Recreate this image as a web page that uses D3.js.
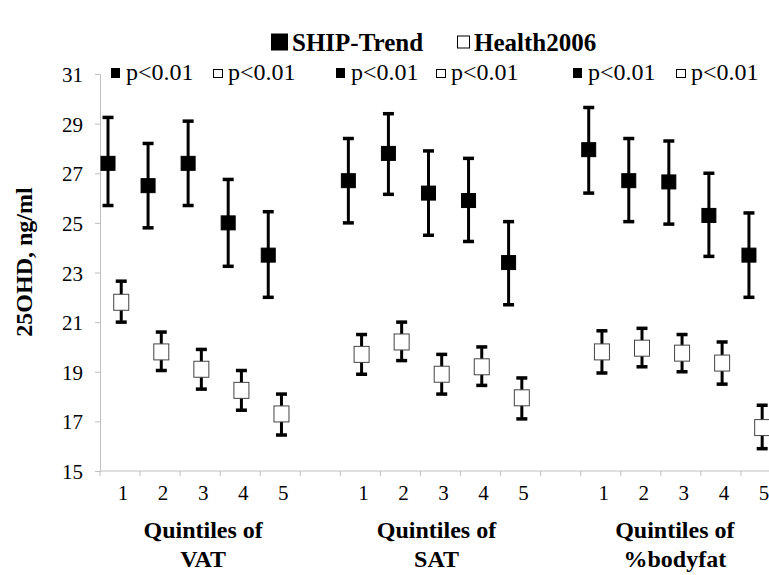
<!DOCTYPE html>
<html>
<head>
<meta charset="utf-8">
<script src="https://cdn.jsdelivr.net/npm/d3@7"></script>
<style>
  body { margin: 0; background: #fff; }
  text { font-family: "Times New Roman", "Liberation Serif", serif; }
</style>
</head>
<body>
<script>
const width = 769;
const height = 575;
const serif = '"Times New Roman", "Liberation Serif", serif';

// categories
const groups = ["VAT", "SAT", "%bodyfat"];
const quintiles = ["1", "2", "3", "4", "5"];
const yTicks = [15, 17, 19, 21, 23, 25, 27, 29, 31];

// SHIP-Trend (filled squares): mean, lower, upper per group
const shipMean = [
  [27.4, 26.5, 27.4, 25.0, 23.7],
  [26.7, 27.8, 26.2, 25.9, 23.4],
  [27.95, 26.7, 26.65, 25.3, 23.7]
];
const shipLow = [
  [25.7, 24.8, 25.7, 23.25, 22.0],
  [25.0, 26.15, 24.5, 24.25, 21.7],
  [26.2, 25.05, 24.95, 23.65, 22.0]
];
const shipHigh = [
  [29.25, 28.2, 29.1, 26.75, 25.45],
  [28.4, 29.4, 27.9, 27.6, 25.05],
  [29.65, 28.4, 28.3, 27.0, 25.4]
];

// Health2006 (open squares)
const healthMean = [
  [21.8, 19.8, 19.1, 18.25, 17.3],
  [19.7, 20.2, 18.9, 19.2, 17.95],
  [19.8, 19.95, 19.75, 19.35, 16.75]
];
const healthLow = [
  [21.0, 19.05, 18.3, 17.45, 16.45],
  [18.9, 19.45, 18.1, 18.45, 17.1],
  [18.95, 19.2, 19.0, 18.5, 15.9]
];
const healthHigh = [
  [22.65, 20.6, 19.9, 19.05, 18.1],
  [20.5, 21.0, 19.7, 20.0, 18.75],
  [20.65, 20.75, 20.5, 20.2, 17.65]
];

const pLabels = ["p<0.01", "p<0.01", "p<0.01"];

// slot keys: 5 quintiles per group with an empty slot between groups
const slots = [];
groups.forEach((g, gi) => {
  quintiles.forEach(q => slots.push(g + "|" + q));
  if (gi < groups.length - 1) slots.push("gap" + gi);
});

const svg = d3.select("body").append("svg")
  .attr("width", width)
  .attr("height", height);

const x = d3.scaleBand()
  .domain(slots)
  .range([100, 781])
  .padding(0);

const y = d3.scaleLinear()
  .domain([15, 31])
  .range([471, 74]);

const bw = x.bandwidth();
const axisColor = "#bfbfbf";

// y axis
const yAxis = svg.append("g")
  .attr("transform", "translate(100,0)")
  .attr("font-family", serif)
  .call(d3.axisLeft(y).tickValues(yTicks).tickSize(5).tickPadding(12));
yAxis.attr("font-family", serif);
yAxis.select(".domain").attr("stroke", axisColor);
yAxis.selectAll(".tick line").attr("stroke", axisColor);
yAxis.selectAll(".tick text")
  .attr("font-size", 21)
  .attr("font-family", serif)
  .attr("dy", "0.36em")
  .attr("fill", "#000");

// x axis: line with tick marks at band edges
const xg = svg.append("g");
xg.append("line")
  .attr("x1", x.range()[0]).attr("x2", x.range()[1])
  .attr("y1", y(15)).attr("y2", y(15))
  .attr("stroke", axisColor);
xg.selectAll("line.tk")
  .data(slots.concat(["end"]))
  .join("line")
  .attr("class", "tk")
  .attr("x1", (d, i) => x.range()[0] + i * bw)
  .attr("x2", (d, i) => x.range()[0] + i * bw)
  .attr("y1", y(15)).attr("y2", y(15) + 5)
  .attr("stroke", axisColor);

// quintile labels
const qData = [];
groups.forEach(g => quintiles.forEach(q => qData.push({ g, q })));
svg.append("g").selectAll("text")
  .data(qData)
  .join("text")
  .attr("x", d => x(d.g + "|" + d.q) + bw / 2 + 3)
  .attr("y", 500)
  .attr("text-anchor", "middle")
  .attr("font-family", serif)
  .attr("font-size", 21)
  .text(d => d.q);

// group titles
const groupCenterShift = [3, -4, -6];
groups.forEach((g, gi) => {
  const cx = x(g + "|3") + bw / 2 + groupCenterShift[gi];
  const t = svg.append("text")
    .attr("x", cx)
    .attr("text-anchor", "middle")
    .attr("font-size", 24)
    .attr("font-weight", "bold");
  t.append("tspan").attr("x", cx).attr("y", 538).text("Quintiles of");
  t.append("tspan").attr("x", cx).attr("y", 567).text(g);
});

// y axis title
svg.append("text")
  .attr("transform", "translate(32,262) rotate(-90)")
  .attr("text-anchor", "middle")
  .attr("font-size", 24)
  .attr("font-weight", "bold")
  .text("25OHD, ng/ml");

// error bars + markers
function drawSeries(mean, low, high, offset, filled) {
  const pts = [];
  groups.forEach((g, gi) => quintiles.forEach((q, qi) => {
    pts.push({
      cx: x(g + "|" + q) + bw / 2 + offset,
      m: mean[gi][qi], lo: low[gi][qi], hi: high[gi][qi]
    });
  }));
  const gEl = svg.append("g");
  gEl.selectAll("line.bar").data(pts).join("line")
    .attr("x1", d => d.cx).attr("x2", d => d.cx)
    .attr("y1", d => y(d.lo)).attr("y2", d => y(d.hi))
    .attr("stroke", "#000").attr("stroke-width", 3);
  ["lo", "hi"].forEach(k => {
    gEl.selectAll("line.cap" + k).data(pts).join("line")
      .attr("x1", d => d.cx - 5.5).attr("x2", d => d.cx + 5.5)
      .attr("y1", d => y(d[k])).attr("y2", d => y(d[k]))
      .attr("stroke", "#000").attr("stroke-width", 3.5);
  });
  const s = filled ? 14 : 15;
  const h = filled ? 14 : 16;
  gEl.selectAll("rect").data(pts).join("rect")
    .attr("x", d => d.cx - s / 2)
    .attr("y", d => y(d.m) - h / 2)
    .attr("width", s).attr("height", h)
    .attr("fill", filled ? "#000" : "#fff")
    .attr("stroke", filled ? "#000" : "#444")
    .attr("stroke-width", 1);
}
drawSeries(shipMean, shipLow, shipHigh, -0.3 * bw, true);
drawSeries(healthMean, healthLow, healthHigh, 0.03 * bw, false);

// p-value annotations
const pStart = [111, 336, 573];
const pSecond = [213, 436, 676];
groups.forEach((g, gi) => {
  const gy = 73;
  svg.append("rect").attr("x", pStart[gi]).attr("y", gy - 5)
    .attr("width", 9).attr("height", 10).attr("fill", "#000");
  svg.append("text").attr("x", pStart[gi] + 15).attr("y", gy + 7)
    .attr("font-size", 24).text(pLabels[gi]);
  svg.append("rect").attr("x", pSecond[gi] + 0.5).attr("y", gy - 3.5)
    .attr("width", 9).attr("height", 8).attr("fill", "#fff")
    .attr("stroke", "#000").attr("stroke-width", 1);
  svg.append("text").attr("x", pSecond[gi] + 15).attr("y", gy + 7)
    .attr("font-size", 24).text(pLabels[gi]);
});

// legend
const legend = [
  { name: "SHIP-Trend", filled: true, x: 271 },
  { name: "Health2006", filled: false, x: 457 }
];
legend.forEach(l => {
  const sz = l.filled ? 16 : 12;
  svg.append("rect")
    .attr("x", l.x + 0.5).attr("y", 42 - sz / 2)
    .attr("width", sz).attr("height", sz)
    .attr("fill", l.filled ? "#000" : "#fff")
    .attr("stroke", "#000").attr("stroke-width", 1);
  svg.append("text")
    .attr("x", l.x + sz + 5).attr("y", 51)
    .attr("font-size", 25).attr("font-weight", "bold")
    .text(l.name);
});
</script>
</body>
</html>
